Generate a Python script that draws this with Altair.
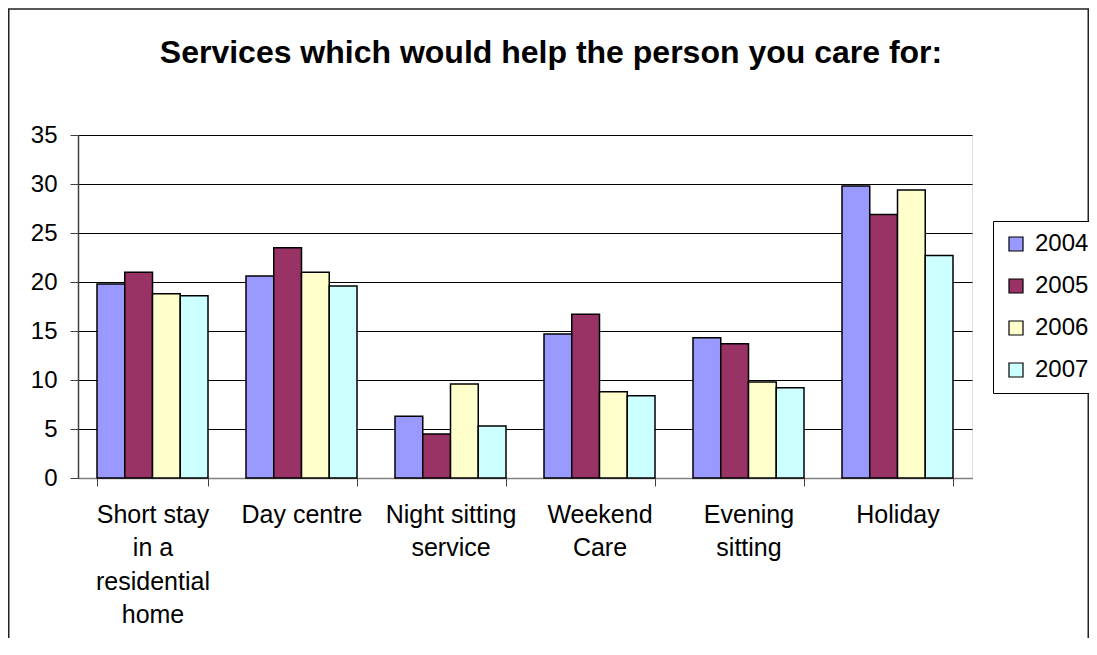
import json
import altair as alt
import pandas as pd

categories = ["Short stay in a residential home", "Day centre", "Night sitting service",
              "Weekend Care", "Evening sitting", "Holiday"]
label_lines = [["Short stay", "in a", "residential", "home"], ["Day centre"],
               ["Night sitting", "service"], ["Weekend", "Care"], ["Evening", "sitting"], ["Holiday"]]
years = ["2004", "2005", "2006", "2007"]
v2004 = [19.8, 20.6, 6.3, 14.7, 14.3, 29.8]
v2005 = [21.0, 23.5, 4.5, 16.7, 13.7, 26.9]
v2006 = [18.8, 21.0, 9.6, 8.8, 9.8, 29.4]
v2007 = [18.6, 19.6, 5.3, 8.4, 9.2, 22.7]
colors = ["#9999FF", "#993366", "#FFFFCC", "#CCFFFF"]
y_ticks = [0, 5, 10, 15, 20, 25, 30, 35]
title_text = "Services which would help the person you care for:"

rows = []
for yr, vals in zip(years, [v2004, v2005, v2006, v2007]):
    for c, v in zip(categories, vals):
        rows.append({"category": c, "year": yr, "value": v})
df = pd.DataFrame(rows)

label_map = json.dumps(dict(zip(categories, label_lines)))
FONT = "Liberation Sans"

W, H = 894, 343
PL, PT = 70, 127
TOTAL_W, TOTAL_H = 1081, 630

bars = alt.Chart(df).mark_bar(stroke="black", strokeWidth=1.5).encode(
    x=alt.X("category:N", sort=categories,
            scale=alt.Scale(paddingInner=0.255, paddingOuter=0.1275),
            axis=alt.Axis(title=None, labelAngle=0, labelExpr=f"{label_map}[datum.label]",
                          labelFont=FONT, labelFontSize=25, labelColor="black",
                          labelLineHeight=33.5, labelOverlap=False, labelPadding=16,
                          labelBaseline="top", labelLimit=300,
                          tickBand="extent", tickSize=8, tickColor="#404040",
                          domainColor="#808080", domainWidth=1.5)),
    xOffset=alt.XOffset("year:N", sort=years, scale=alt.Scale(paddingInner=0, paddingOuter=0)),
    y=alt.Y("value:Q", scale=alt.Scale(domain=[0, 35], nice=False),
            axis=alt.Axis(title=None, values=y_ticks, labelFont=FONT, labelFontSize=24,
                          labelColor="black", labelPadding=13, tickSize=8, tickColor="#404040",
                          domainColor="#404040", domainWidth=1.5,
                          grid=True, gridColor="black", gridWidth=1)),
    color=alt.Color("year:N", sort=years, scale=alt.Scale(domain=years, range=colors),
                    legend=alt.Legend(title=None, orient="none", legendX=915, legendY=86,
                                      labelFont=FONT, labelFontSize=24, labelColor="black",
                                      symbolType="square", symbolSize=196,
                                      symbolStrokeColor="black", symbolStrokeWidth=1.2,
                                      labelOffset=7, rowPadding=18, padding=11,
                                      strokeColor="black", fillColor="white")),
)

frame = alt.Chart(alt.Data(values=[{}])).mark_rect(
    fillOpacity=0, stroke="#222222", strokeWidth=1.5
).encode(
    x=alt.value(-PL + 0.75), x2=alt.value(TOTAL_W - PL - 0.75),
    y=alt.value(-PT + 1), y2=alt.value(TOTAL_H + 100),
)

chart = alt.layer(frame, bars).properties(
    width=W, height=H,
    title=alt.TitleParams(title_text, font=FONT, fontSize=32, fontWeight="bold",
                          color="black", anchor="middle", frame="group", dx=26,
                          baseline="alphabetic", offset=0, dy=87),
    autosize=alt.AutoSizeParams(type="none"),
    padding={"left": PL, "top": PT, "right": TOTAL_W - PL - W, "bottom": TOTAL_H - PT - H},
).configure_view(
    fill="#C0C0C0", stroke="#808080", strokeWidth=1.5
).configure(background="white")

chart.save("out.html", embed_options={"renderer": "svg", "actions": False})
